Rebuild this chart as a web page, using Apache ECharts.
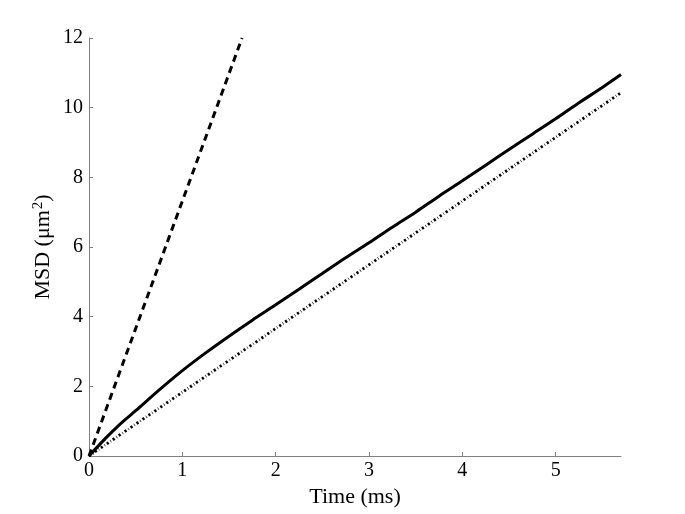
<!DOCTYPE html>
<html>
<head>
<meta charset="utf-8">
<script src="https://cdn.jsdelivr.net/npm/echarts@6/dist/echarts.min.js"></script>
<style>
  html, body { margin: 0; padding: 0; background: #fff; }
  #chart { width: 685px; height: 514px; }
</style>
</head>
<body>
<div id="chart"></div>
<script>
  // time (ms) and MSD (um^2)
  var solidTime = [0, 0.1, 0.2, 0.3, 0.4, 0.5, 0.75, 1.0, 1.25, 1.5, 1.75, 2.0, 2.25, 2.5, 2.75, 3.0, 3.25, 3.5, 3.75, 4.0, 4.25, 4.5, 4.75, 5.0, 5.25, 5.5, 5.7]
  var solidMsd = [0, 0.29, 0.57, 0.83, 1.07, 1.3, 1.89, 2.45, 2.96, 3.44, 3.9, 4.34, 4.79, 5.24, 5.69, 6.12, 6.57, 7.0, 7.46, 7.9, 8.35, 8.8, 9.24, 9.68, 10.14, 10.58, 10.95]
  var dashedTime = [0, 1.64]
  var dashedMsd = [0, 12]
  var dottedTime = [0, 5.7]
  var dottedMsd = [0, 10.43]

  var xTicks = [0, 1, 2, 3, 4, 5]
  var yTicks = [0, 2, 4, 6, 8, 10, 12]

  function pairs(xs, ys) {
    return xs.map(function (x, i) { return [x, ys[i]] })
  }

  var font = '"Liberation Serif", "DejaVu Serif", serif'
  var chart = echarts.init(document.getElementById('chart'))
  var option = {
    backgroundColor: '#fff',
    animation: false,
    grid: { left: 89, right: 64, top: 38, bottom: 58 },
    xAxis: {
      type: 'value',
      min: 0,
      max: 5.7,
      interval: 1,
      name: 'Time (ms)',
      nameLocation: 'middle',
      nameGap: 23,
      nameTextStyle: { fontFamily: font, fontSize: 22, color: '#000' },
      axisLine: { lineStyle: { color: '#808080', width: 1 } },
      axisTick: { inside: true, length: 4, lineStyle: { color: '#808080' } },
      splitLine: { show: false },
      axisLabel: {
        fontFamily: font, fontSize: 20, color: '#000', margin: 5,
        showMaxLabel: false,
        formatter: function (v) { return xTicks.indexOf(v) >= 0 ? String(v) : '' }
      }
    },
    yAxis: {
      type: 'value',
      min: 0,
      max: 12,
      interval: 2,
      name: '{n|MSD (μm}{s|2}{n|)}',
      nameLocation: 'middle',
      nameGap: 33,
      nameMoveOverlap: false,
      nameRotate: 90,
      nameTextStyle: {
        rich: {
          n: { fontFamily: font, fontSize: 22, color: '#000' },
          s: { fontFamily: font, fontSize: 15, color: '#000', verticalAlign: 'top', padding: [0, 0, 10, 1] }
        }
      },
      axisLine: { show: true, lineStyle: { color: '#808080', width: 1 } },
      axisTick: { show: true, inside: true, length: 4, lineStyle: { color: '#808080' } },
      splitLine: { show: false },
      axisLabel: {
        fontFamily: font, fontSize: 20, color: '#000', margin: 6,
        formatter: function (v) { return yTicks.indexOf(v) >= 0 ? String(v) : '' }
      }
    },
    series: [
      {
        name: 'dashed',
        type: 'line',
        data: pairs(dashedTime, dashedMsd),
        showSymbol: false,
        lineStyle: { color: '#000', width: 3, type: [7, 5] }
      },
      {
        name: 'dotted',
        type: 'line',
        data: pairs(dottedTime, dottedMsd),
        showSymbol: false,
        lineStyle: { color: '#000', width: 2.8, type: [2.2, 2.2, 0.6, 2.2] }
      },
      {
        name: 'solid',
        type: 'line',
        data: pairs(solidTime, solidMsd),
        showSymbol: false,
        smooth: 0.3,
        lineStyle: { color: '#000', width: 3 }
      }
    ]
  }
  chart.setOption(option)
</script>
</body>
</html>
